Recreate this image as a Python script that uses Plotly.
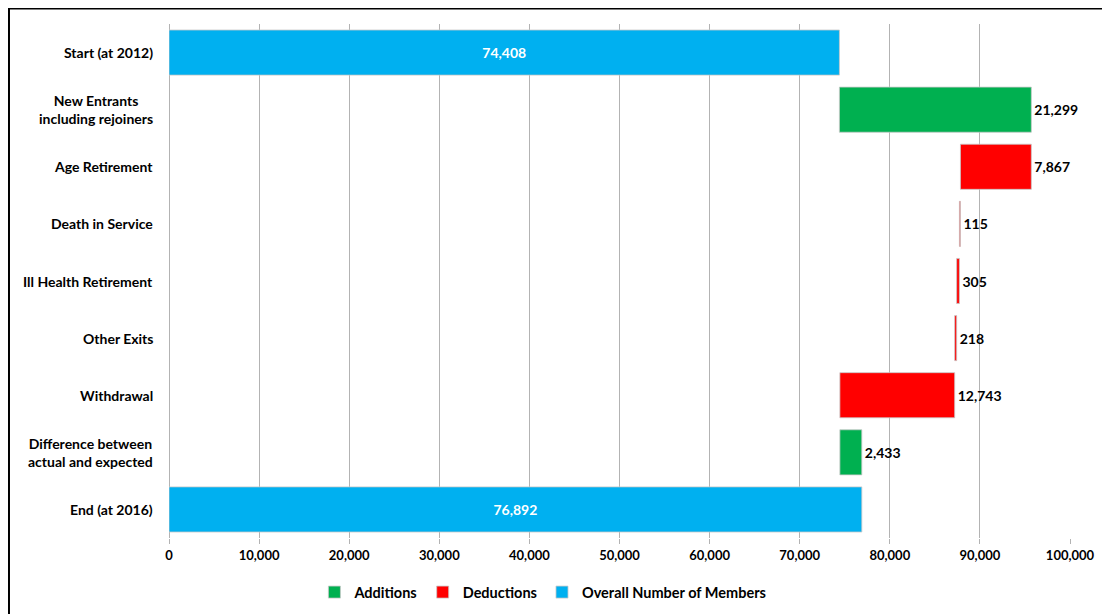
import plotly.graph_objects as go

categories = ["Start (at 2012)", "New Entrants<br>including rejoiners", "Age Retirement",
              "Death in Service", "Ill Health Retirement", "Other Exits", "Withdrawal",
              "Difference between<br>actual and expected", "End (at 2016)"]
kinds = ["total", "add", "ded", "ded", "ded", "ded", "ded", "add", "total"]
values = [74408, 21299, 7867, 115, 305, 218, 12743, 2433, 76892]
x_ticks = [0, 10000, 20000, 30000, 40000, 50000, 60000, 70000, 80000, 90000, 100000]

# compute bases through running total
bases = []
running = 0
for k, v in zip(kinds, values):
    if k == "total":
        bases.append(0)
        running = v
    elif k == "add":
        bases.append(running)
        running += v
    else:
        running -= v
        bases.append(running)

colors = {"add": "#00B050", "ded": "#FF0000", "total": "#00B0F0"}
names = {"add": "Additions", "ded": "Deductions", "total": "Overall Number of Members"}

fig = go.Figure()
for k in ["add", "ded", "total"]:
    idx = [i for i, kk in enumerate(kinds) if kk == k]
    fig.add_trace(go.Bar(
        y=[categories[i] for i in idx],
        x=[values[i] for i in idx],
        base=[bases[i] for i in idx],
        orientation="h",
        name=names[k],
        marker=dict(color=colors[k], line=dict(color="#c8c8c8", width=0.8)),
        text=[f"{values[i]:,}" for i in idx],
        textposition="inside" if k == "total" else "outside",
        insidetextanchor="middle",
        textfont=dict(family="Lato", size=14, color="white" if k == "total" else "black", weight="bold"),
        cliponaxis=False,
        width=0.79,
    ))

for c in categories:
    fig.add_annotation(x=0, xref="paper", xanchor="right", xshift=-14,
                       y=c, yref="y", text=c, showarrow=False, align="center",
                       font=dict(family="Lato", size=14, color="black", weight="bold"))

fig.add_shape(type="rect", xref="paper", yref="paper", x0=-0.1776, x1=1.2, y0=-0.3, y1=1.03,
              line=dict(color="black", width=2), layer="below")

fig.update_layout(
    width=1102, height=606,
    margin=dict(l=161, r=40, t=16, b=76),
    paper_bgcolor="white", plot_bgcolor="white",
    barmode="overlay",
    font=dict(family="Lato", size=13, color="black"),
    legend=dict(orientation="h", x=0.415, xanchor="center",
                yref="container", y=0.036, yanchor="middle",
                font=dict(family="Lato", size=14.5, color="black", weight="bold"),
                itemwidth=30, traceorder="normal", tracegroupgap=0),
    showlegend=True,
)
fig.update_xaxes(range=[0, 100000], tickvals=x_ticks, tickformat=",d",
                 showgrid=True, gridcolor="#b3b3b3", gridwidth=1,
                 zeroline=True, zerolinecolor="#b3b3b3", zerolinewidth=1,
                 ticks="outside", ticklen=5, tickcolor="#b3b3b3",
                 tickfont=dict(family="Lato", size=13, color="black", weight="bold"),
                 showline=False)
fig.update_yaxes(categoryorder="array", categoryarray=categories, autorange="reversed",
                 showticklabels=False, showgrid=False, showline=False)

fig.write_html("out.html")
